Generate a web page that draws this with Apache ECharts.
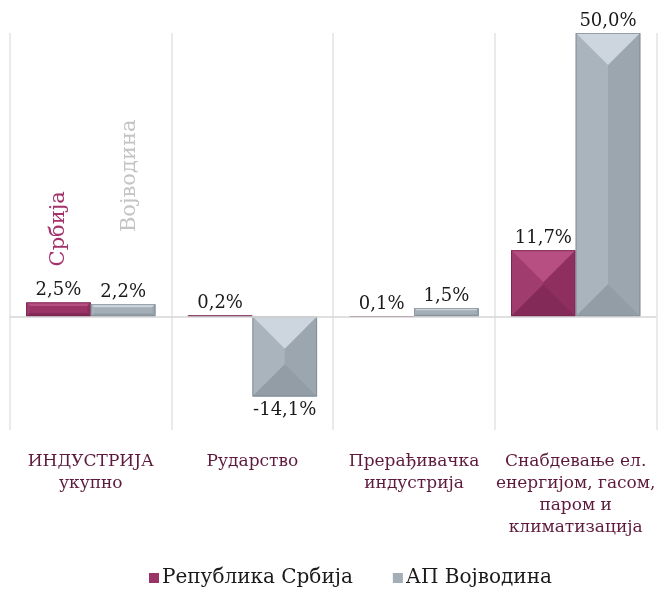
<!DOCTYPE html>
<html>
<head>
<meta charset="utf-8">
<script src="https://cdn.jsdelivr.net/npm/echarts@6/dist/echarts.min.js"></script>
<style>
  html, body { margin: 0; padding: 0; background: #fff; }
  #chart { width: 658px; height: 601px; }
</style>
</head>
<body>
<div id="chart"></div>
<script>
// categories and values (%)
var categories = [
  "ИНДУСТРИЈА\nукупно",
  "Рударство",
  "Прерађивачка\nиндустрија",
  "Снабдевање ел.\nенергијом, гасом,\nпаром и\nклиматизација"
];
var seriesNames = ["Република Србија", "АП Војводина"];
var serbia = [2.5, 0.2, 0.1, 11.7];
var vojvodina = [2.2, -14.1, 1.5, 50.0];
// stray rotated names above the first pair of bars
var firstNotes = ["Србија", "Војводина"];

// shades: top, left, right, bottom, edge
var shades = [
  ["#b84f82", "#a13c6f", "#8e2f60", "#842a58", "#6c1f47"],
  ["#cdd6de", "#a9b4bd", "#9ba6af", "#929da6", "#7b8690"]
];
var faceColors = ["#9a3467", "#a3aeb7"];
var noteColors = ["#a3326a", "#c4c4c4"];
var noteLift = [36, 72];
var noteShift = [0, 6];

function fmt(v) {
  return v.toFixed(1).replace(".", ",") + "%";
}

function renderBevel(params, api) {
  var si = params.seriesIndex;
  var cat = api.value(0), val = api.value(1);
  var base = api.coord([cat, 0]);
  var tip = api.coord([cat, val]);
  var bandW = api.size([1, 0])[0];
  var w = bandW * 0.4;
  var x = base[0] + (si === 0 ? -w : 0);
  var y0 = Math.min(base[1], tip[1]), y1 = Math.max(base[1], tip[1]);
  var h = y1 - y0;
  var d = h < 30 ? h * 0.25 : Math.min(w / 2, h / 2);
  var c = shades[si];
  var kids = [
    { type: "rect", shape: { x: x, y: y0, width: w, height: h }, style: { fill: faceColors[si] } },
    { type: "polygon", shape: { points: [[x, y0], [x + w, y0], [x + w - d, y0 + d], [x + d, y0 + d]] }, style: { fill: c[0] } },
    { type: "polygon", shape: { points: [[x, y0], [x + d, y0 + d], [x + d, y1 - d], [x, y1]] }, style: { fill: c[1] } },
    { type: "polygon", shape: { points: [[x + w, y0], [x + w, y1], [x + w - d, y1 - d], [x + w - d, y0 + d]] }, style: { fill: c[2] } },
    { type: "polygon", shape: { points: [[x, y1], [x + d, y1 - d], [x + w - d, y1 - d], [x + w, y1]] }, style: { fill: c[3] } },
    { type: "rect", shape: { x: x + 0.5, y: y0 + 0.5, width: w - 1, height: Math.max(0, h - 1) }, style: { fill: null, stroke: c[4], lineWidth: 1, opacity: 0.7 } },
    {
      type: "text",
      style: {
        text: fmt(val),
        x: x + w / 2,
        y: val >= 0 ? y0 - 3 : y1 + 5,
        align: "center",
        verticalAlign: val >= 0 ? "bottom" : "top",
        fill: "#1a1a1a",
        font: "18px 'DejaVu Serif'"
      }
    }
  ];
  if (params.dataIndex === 0) {
    kids.push({
      type: "text",
      x: x + w / 2 + noteShift[si],
      y: y0 - noteLift[si],
      rotation: Math.PI / 2,
      style: {
        text: firstNotes[si],
        x: 0, y: 0,
        align: "left",
        verticalAlign: "middle",
        fill: noteColors[si],
        font: "21px 'DejaVu Serif'"
      }
    });
  }
  return { type: "group", children: kids };
}

var chart = echarts.init(document.getElementById("chart"));
chart.setOption({
  animation: false,
  grid: { left: 10, right: -2, top: 33, bottom: 171, containLabel: false },
  legend: {
    bottom: 8,
    left: 144,
    itemWidth: 10,
    itemHeight: 10,
    itemGap: 40,
    icon: "rect",
    textStyle: { fontFamily: "DejaVu Serif", fontSize: 20, color: "#1a1a1a", padding: [0, 0, 0, -2] },
    data: seriesNames
  },
  xAxis: {
    type: "category",
    data: categories,
    position: "bottom",
    axisLine: { show: false },
    axisTick: { show: false },
    splitLine: { show: true, lineStyle: { color: "#e3e3e3", width: 1.5 } },
    axisLabel: {
      interval: 0,
      margin: 21,
      color: "#5e1a3c",
      fontFamily: "DejaVu Serif",
      fontSize: 17,
      lineHeight: 22
    }
  },
  yAxis: {
    type: "value",
    min: -20,
    max: 50,
    show: false,
    splitLine: { show: false }
  },
  series: [
    {
      name: seriesNames[0],
      type: "custom",
      renderItem: renderBevel,
      itemStyle: { color: faceColors[0] },
      encode: { x: 0, y: 1 },
      data: serbia.map(function (v, i) { return [i, v]; }),
      markLine: {
        silent: true,
        symbol: "none",
        label: { show: false },
        lineStyle: { color: "#d6d6d6", type: "solid", width: 1.5 },
        data: [{ yAxis: 0 }]
      },
      z: 3
    },
    {
      name: seriesNames[1],
      type: "custom",
      renderItem: renderBevel,
      itemStyle: { color: faceColors[1] },
      encode: { x: 0, y: 1 },
      data: vojvodina.map(function (v, i) { return [i, v]; }),
      z: 3
    }
  ]
});
</script>
</body>
</html>
